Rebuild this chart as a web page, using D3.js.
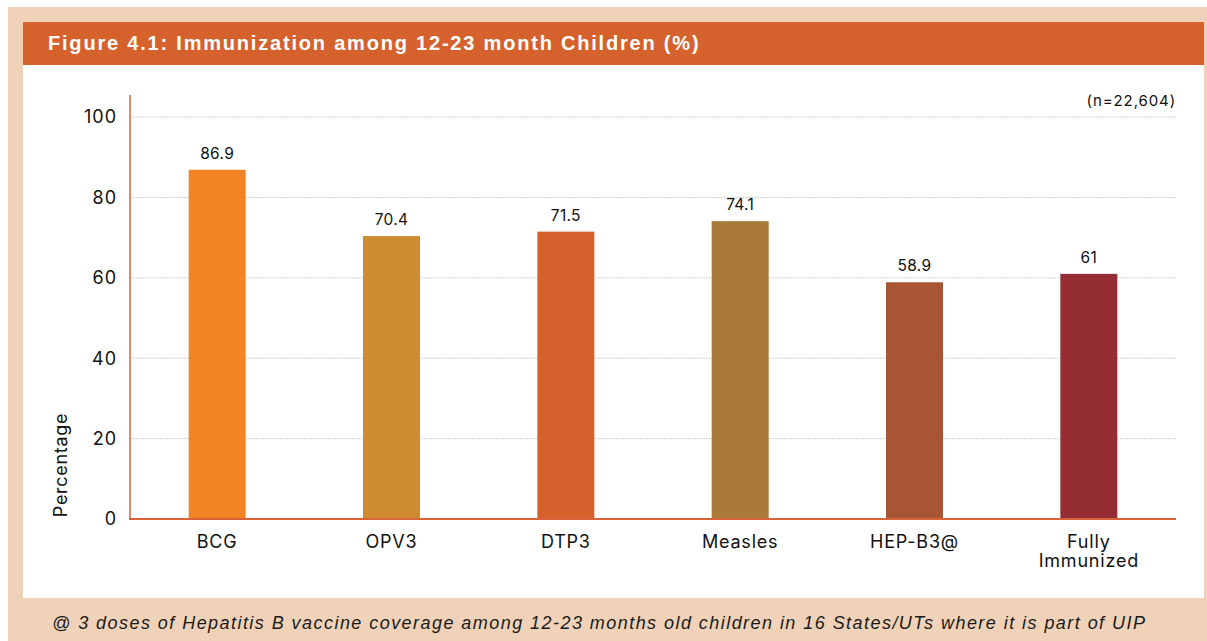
<!DOCTYPE html>
<html><head><meta charset="utf-8">
<script src="https://cdn.jsdelivr.net/npm/d3@7"></script>
<style>body{margin:0;background:#fff}svg{display:block}</style>
</head><body>
<svg id="c" width="1207" height="641"></svg>
<script>
const categories = ["BCG","OPV3","DTP3","Measles","HEP-B3@","Fully Immunized"];
const values = [86.9,70.4,71.5,74.1,58.9,61];
const valueLabels = ["86.9","70.4","71.5","74.1","58.9","61"];
const colors = ["#F28424","#CF8B30","#D5612C","#A97A3A","#A75535","#952D34"];
const yTicks = [0,20,40,60,80,100];
const titleText = "Figure 4.1: Immunization among 12-23 month Children (%)";
const noteText = "@ 3 doses of Hepatitis B vaccine coverage among 12-23 months old children in 16 States/UTs where it is part of UIP";
const sampleText = "(n=22,604)";

(function(){
const svg = d3.select("#c");
const font = "'Liberation Sans', Arial, sans-serif";
const font2 = "Inter, 'Liberation Sans', sans-serif";
svg.append("rect").attr("x",8).attr("y",7).attr("width",1199).attr("height",634).attr("fill","#F0D2B8");
svg.append("rect").attr("x",23).attr("y",22).attr("width",1181).attr("height",43).attr("fill","#D5622D");
svg.append("rect").attr("x",23).attr("y",65).attr("width",1181).attr("height",533).attr("fill","#ffffff");
svg.append("text").attr("x",48).attr("y",50).attr("fill","#fff").attr("font-family",font)
  .attr("font-weight","bold").attr("font-size",20).attr("letter-spacing",1.8).text(titleText);
svg.append("text").attr("x",52).attr("y",629).attr("fill","#1a1a1a").attr("font-family",font)
  .attr("font-style","italic").attr("font-size",18).attr("letter-spacing",1.45).text(noteText);

const L=130, R=1176, T=95, B=519;
const x = d3.scaleBand().domain(categories).range([L,R]).paddingInner(0.673).paddingOuter(0.3365);
const y = d3.scaleLinear().domain([0,105.5]).range([B,T]);

svg.append("g").selectAll("line").data(yTicks.filter(d=>d>0)).join("line")
  .attr("x1",L).attr("x2",R).attr("y1",d=>y(d)).attr("y2",d=>y(d))
  .attr("stroke","#cfcfcf").attr("stroke-width",1).attr("stroke-dasharray","2,1");

svg.append("g").selectAll("rect").data(values).join("rect")
  .attr("x",(d,i)=>x(categories[i])).attr("width",x.bandwidth())
  .attr("y",d=>y(d)).attr("height",d=>B-y(d)).attr("fill",(d,i)=>colors[i]);
svg.append("g").selectAll("text").data(values).join("text")
  .attr("x",(d,i)=>x(categories[i])+x.bandwidth()/2).attr("y",d=>y(d)-11)
  .attr("text-anchor","middle").attr("font-family",font2).attr("font-size",15.5)
  .attr("letter-spacing",0.3).attr("fill","#111")
  .text((d,i)=>valueLabels[i]);

const ya = svg.append("g").attr("transform",`translate(${L},0)`)
  .call(d3.axisLeft(y).tickValues(yTicks).tickSize(0).tickPadding(13));
ya.select(".domain").remove();
ya.selectAll("text").attr("font-family",font2).attr("font-size",18).attr("letter-spacing",1).attr("fill","#111");
svg.append("line").attr("x1",L).attr("x2",L).attr("y1",T).attr("y2",B)
  .attr("stroke","#D9643A").attr("stroke-width",1.5);

const xa = svg.append("g").attr("transform",`translate(0,${B})`)
  .call(d3.axisBottom(x).tickSize(0).tickPadding(0));
xa.select(".domain").remove();
xa.selectAll("text").remove();
xa.selectAll(".tick").each(function(d){
  const t = d3.select(this).append("text").attr("text-anchor","middle").attr("font-family",font2)
    .attr("font-size",18).attr("letter-spacing",0.8).attr("fill","#111");
  const parts = d==="Fully Immunized" ? ["Fully","Immunized"] : [d];
  parts.forEach((p,i)=>t.append("tspan").attr("x",0).attr("y",29+i*19).text(p));
});
svg.append("line").attr("x1",L-1).attr("x2",R).attr("y1",B).attr("y2",B)
  .attr("stroke","#D9643A").attr("stroke-width",2);

svg.append("text").attr("transform",`translate(67,465) rotate(-90)`).attr("text-anchor","middle")
  .attr("font-family",font2).attr("font-size",18).attr("letter-spacing",0.7).attr("fill","#111").text("Percentage");
svg.append("text").attr("x",R).attr("y",106).attr("text-anchor","end")
  .attr("font-family",font2).attr("font-size",15).attr("letter-spacing",0.9).attr("fill","#111").text(sampleText);
})();
</script>
</body></html>
